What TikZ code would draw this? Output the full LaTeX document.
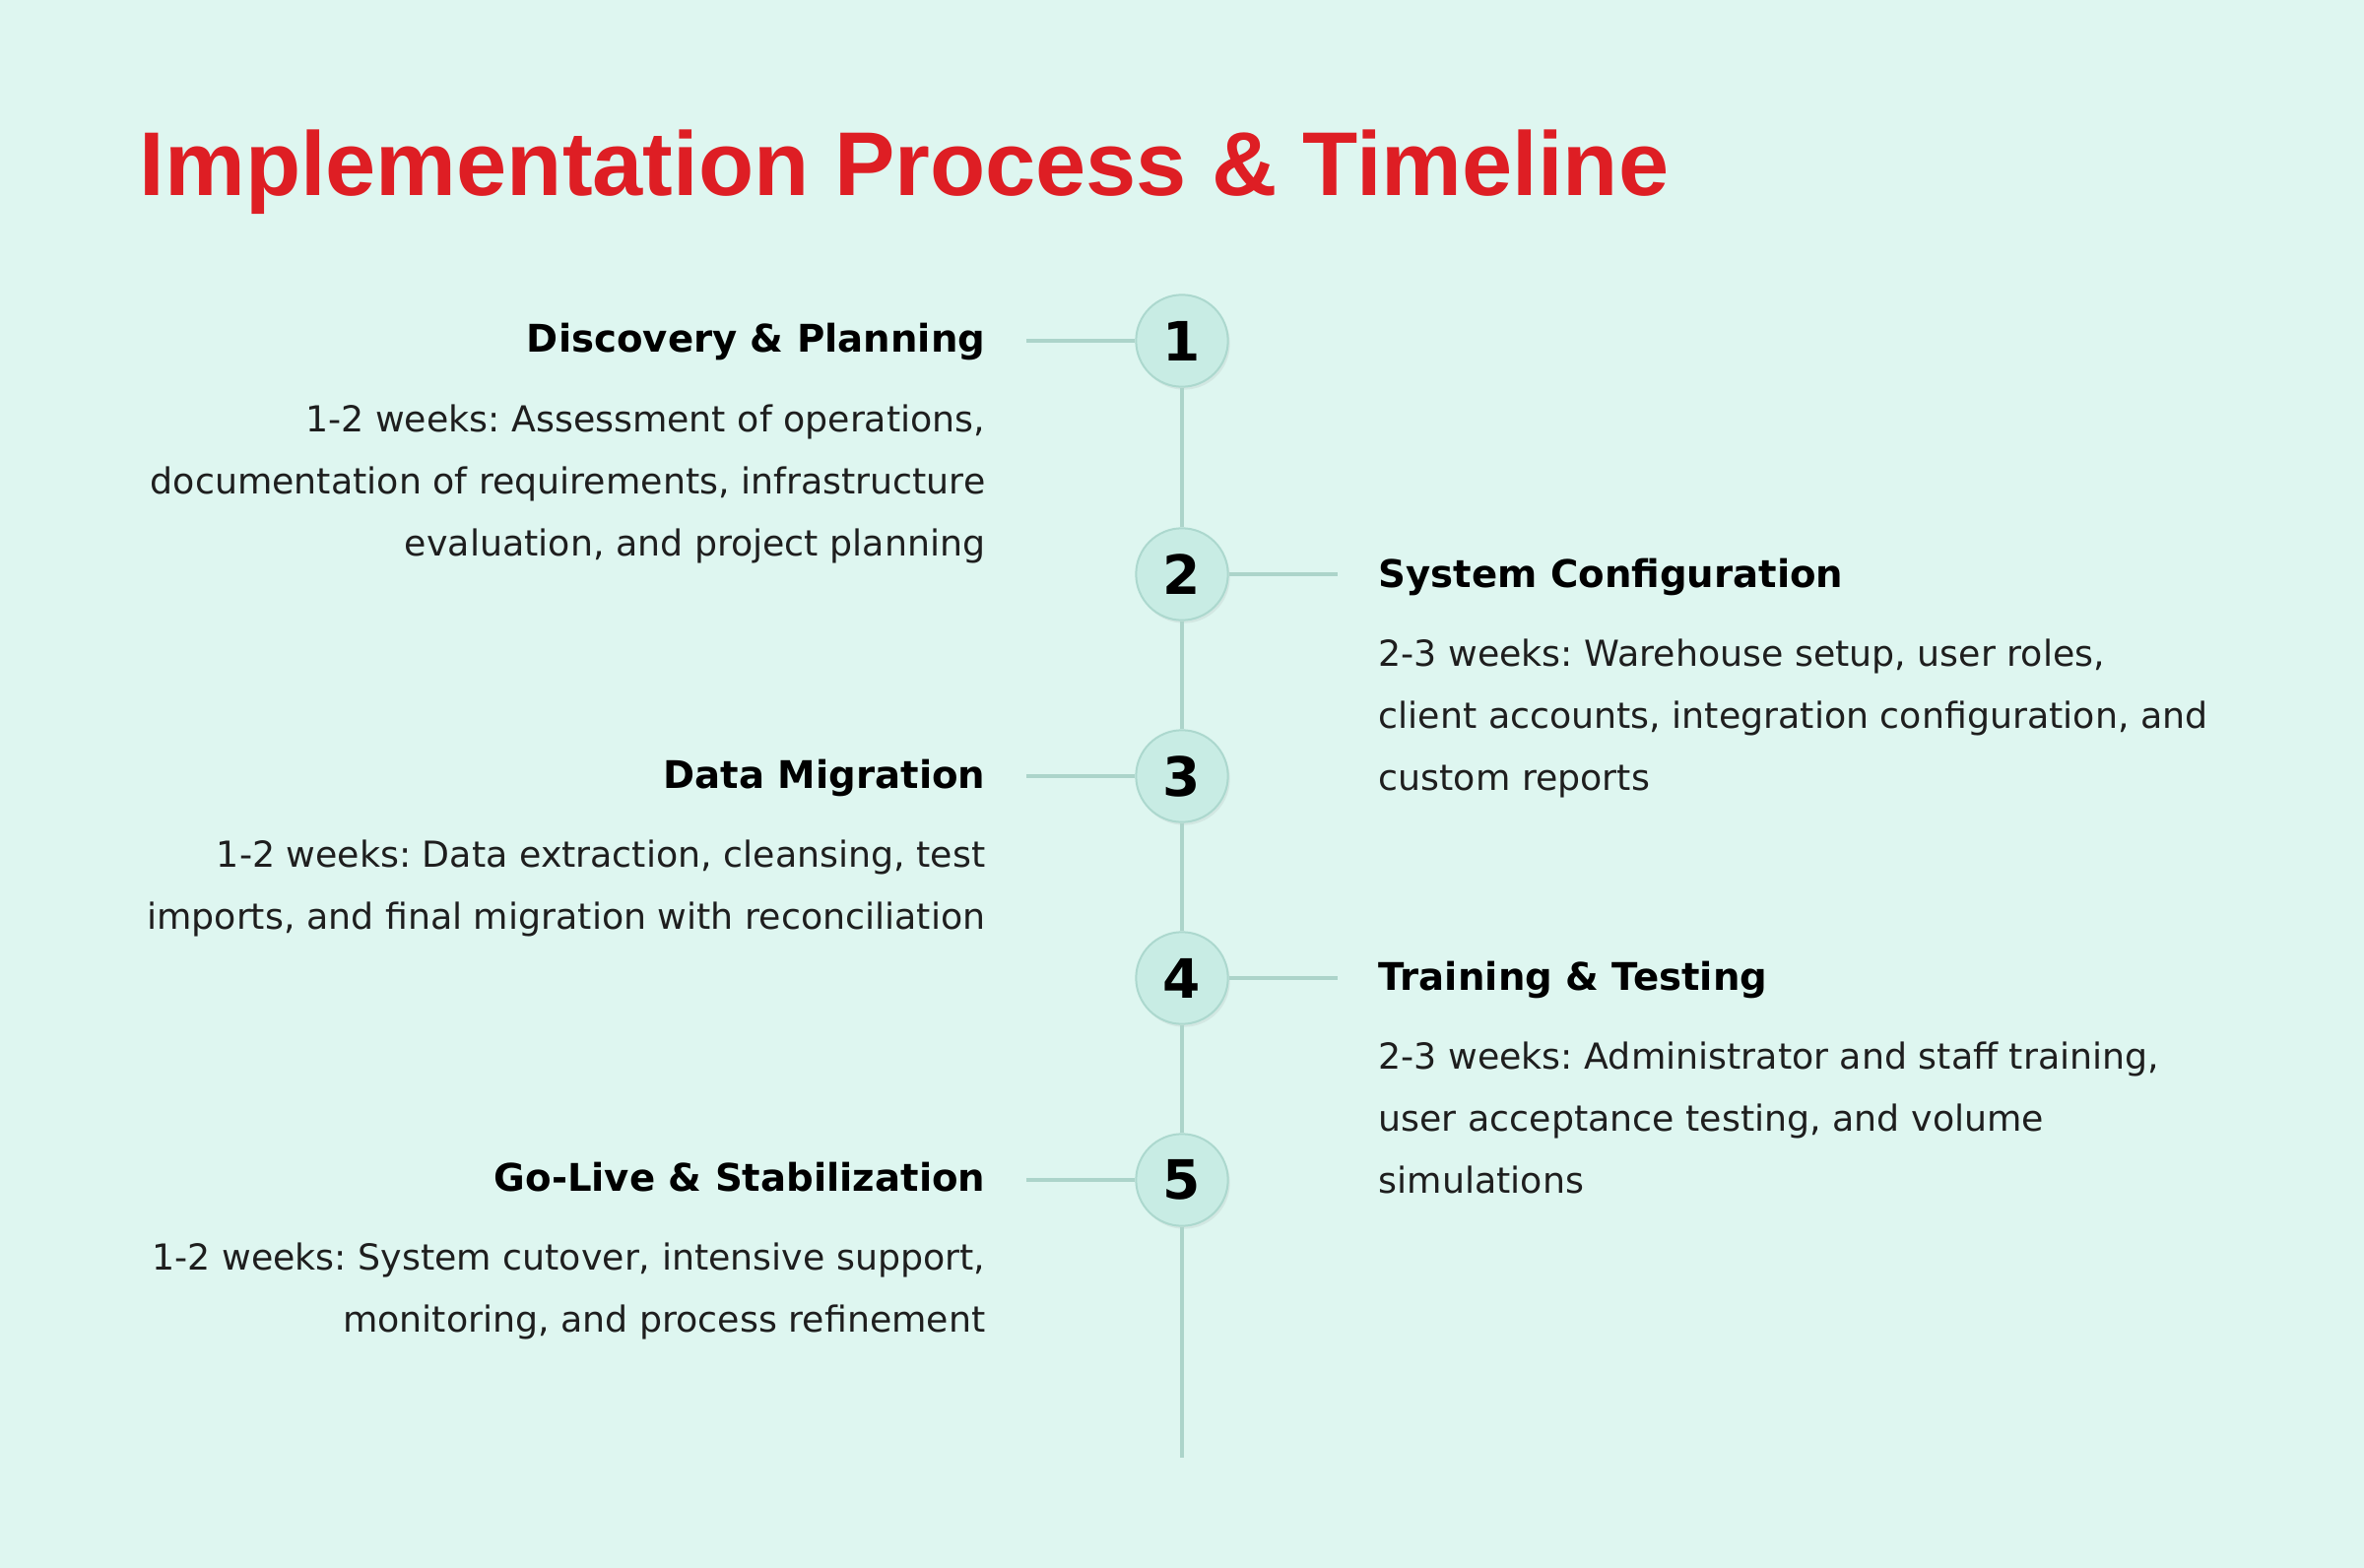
\documentclass[tikz,border=0pt]{standalone}
\usepackage{fontspec}
\setmainfont{DejaVu Sans}
\newfontfamily\titlefont{Liberation Sans}
\usetikzlibrary{shadows}
\definecolor{bgmint}{RGB}{222,246,240}
\definecolor{titlered}{RGB}{222,30,36}
\definecolor{dotfill}{RGB}{200,236,228}
\definecolor{dotrim}{RGB}{172,216,206}
\definecolor{linkline}{RGB}{172,212,202}
\definecolor{bodygrey}{RGB}{30,30,30}
\frenchspacing

\begin{document}
\begin{tikzpicture}[x=0.3pt, y=-0.3pt,
  dot/.style={circle, minimum size=28pt, inner sep=0pt, fill=dotfill, draw=dotrim, line width=0.6pt,
    drop shadow={shadow xshift=0.6pt, shadow yshift=-0.9pt, opacity=0.12},
    font=\fontsize{16.5}{16.5}\selectfont\bfseries},
  link/.style={draw=linkline, line width=1pt},
  head/.style={inner sep=0pt, font=\fontsize{11.6}{14}\selectfont\bfseries, text=black},
  body/.style={inner sep=0pt, font=\fontsize{10.9}{18.9}\selectfont, text=bodygrey}]
\fill[bgmint] (0,0) rectangle (2400,1592);
\useasboundingbox (0,0) rectangle (2400,1592);

\node (title) at (141,199) [anchor=base west, inner sep=0pt, text=titlered,
  font=\titlefont\fontsize{27.6}{30}\selectfont\bfseries] {Implementation Process \& Timeline};

% timeline dots
\node (c1) at (1200,346) [dot] {1};
\node (c2) at (1200,583) [dot] {2};
\node (c3) at (1200,788) [dot] {3};
\node (c4) at (1200,993) [dot] {4};
\node (c5) at (1200,1198) [dot] {5};
\coordinate (cend) at (1200,1480);
\draw [link] (c1) -- (c2);
\draw [link] (c2) -- (c3);
\draw [link] (c3) -- (c4);
\draw [link] (c4) -- (c5);
\draw [link] (c5) -- (cend);

% left side (body nodes sit on their last line)
\coordinate (e1) at (1042,346);
\coordinate (e3) at (1042,788);
\coordinate (e5) at (1042,1198);
\draw [link] (e1) -- (c1);
\draw [link] (e3) -- (c3);
\draw [link] (e5) -- (c5);
\node (h1) at (1001,358) [head, anchor=base east] {Discovery \& Planning};
\node (b1) at (1001,564) [body, anchor=base east, align=right]
  {1-2 weeks: Assessment of operations,\\documentation of requirements, infrastructure\\evaluation, and project planning};
\node (h3) at (1001,800) [head, anchor=base east] {Data Migration};
\node (b3) at (1001,943) [body, anchor=base east, align=right]
  {1-2 weeks: Data extraction, cleansing, test\\imports, and final migration with reconciliation};
\node (h5) at (1001,1209) [head, anchor=base east] {Go-Live \& Stabilization};
\node (b5) at (1001,1352) [body, anchor=base east, align=right]
  {1-2 weeks: System cutover, intensive support,\\monitoring, and process refinement};

% right side
\coordinate (e2) at (1358,583);
\coordinate (e4) at (1358,993);
\draw [link] (c2) -- (e2);
\draw [link] (c4) -- (e4);
\node (h2) at (1399,596) [head, anchor=base west] {System Configuration};
\node (b2) at (1399,802) [body, anchor=base west, align=left]
  {2-3 weeks: Warehouse setup, user roles,\\client accounts, integration configuration, and\\custom reports};
\node (h4) at (1399,1005) [head, anchor=base west] {Training \& Testing};
\node (b4) at (1399,1211) [body, anchor=base west, align=left]
  {2-3 weeks: Administrator and staff training,\\user acceptance testing, and volume\\simulations};
\end{tikzpicture}
\end{document}
